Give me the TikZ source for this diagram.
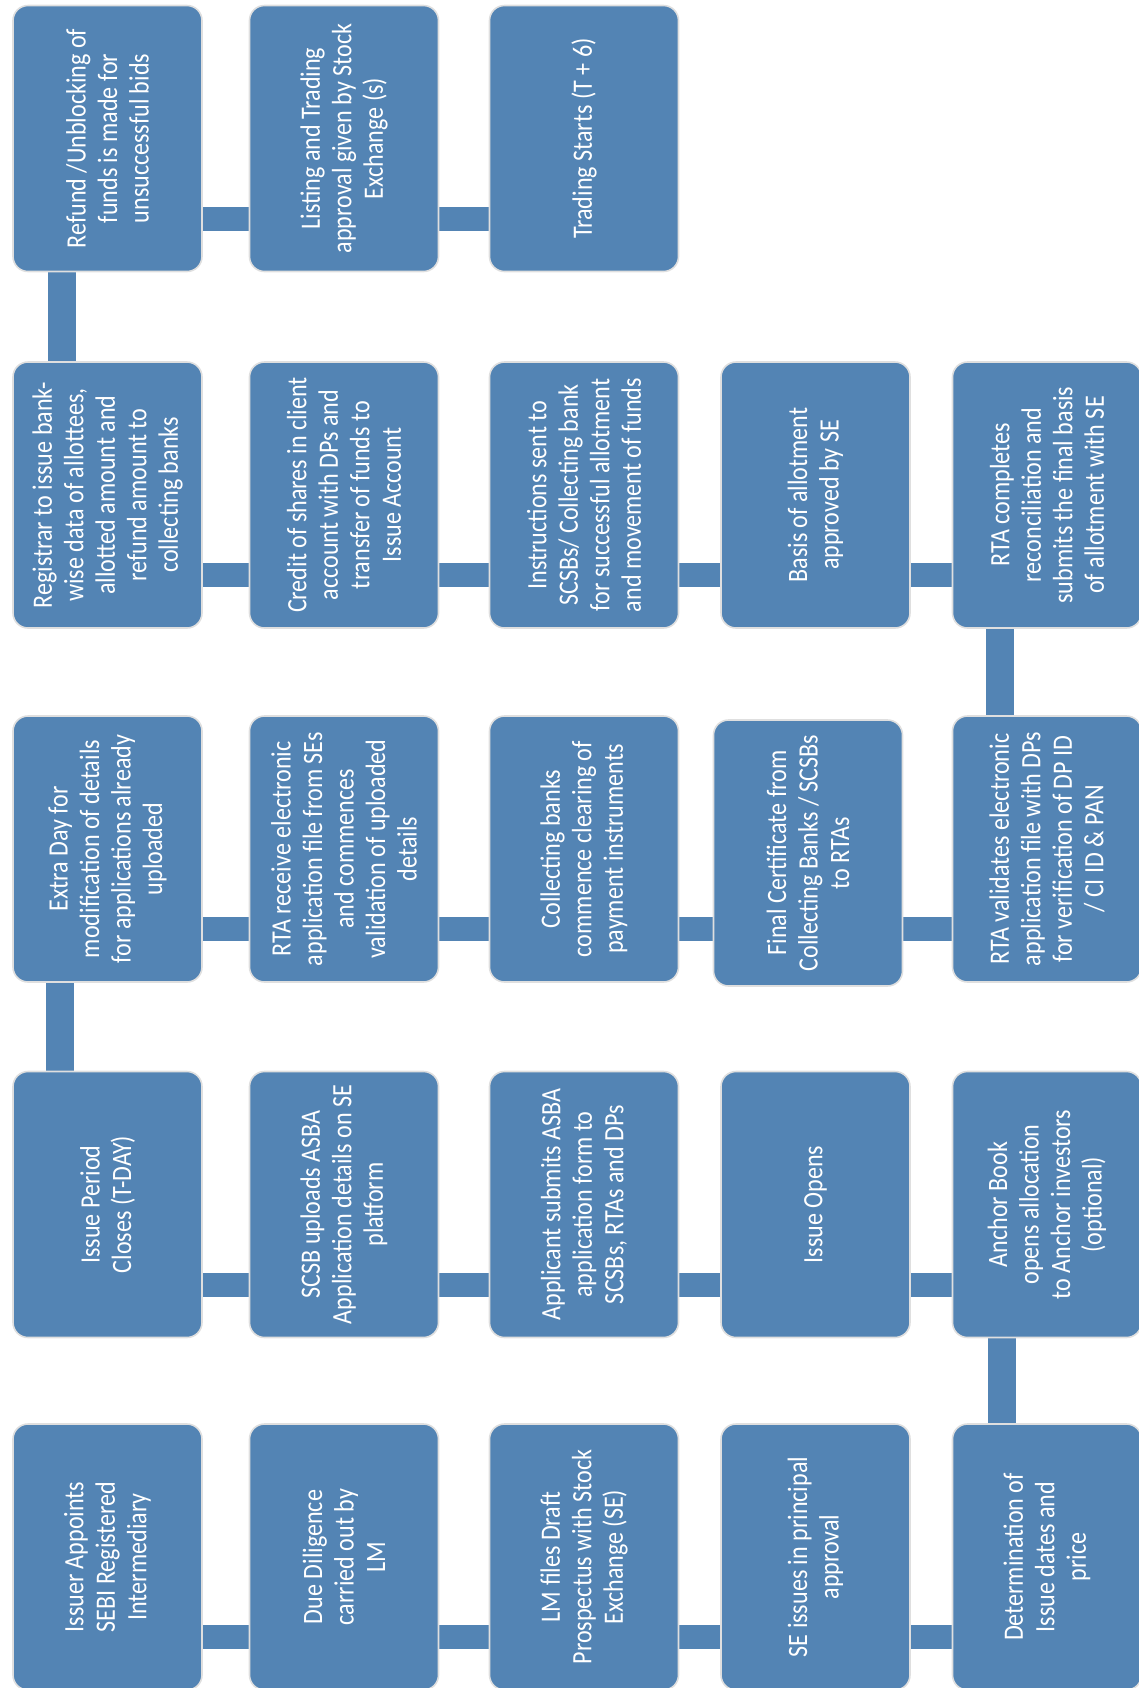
\documentclass[tikz,border=0pt]{standalone}
\usepackage{fontspec}
\setmainfont{Carlito}[FakeStretch=0.86]
\usetikzlibrary{calc,backgrounds}
\definecolor{stepblue}{RGB}{83,132,180}

\begin{document}
\begin{tikzpicture}[x=0.5pt,y=-0.5pt,
    stepbox/.style={rotate=90, draw=white!75!gray, line width=0.8pt, fill=stepblue,
        rounded corners=7.5pt, minimum width=133pt, minimum height=94.5pt, inner sep=2pt,
        text=white, align=center, font=\fontsize{14}{15.75}\selectfont},
    hlink/.style={stepblue, line width=12pt},
    vlink/.style={stepblue, line width=14pt}]
        \useasboundingbox (0,0) rectangle (1139,1688);

        % first row: issue to listing
        \node[stepbox] (appoint) at (107.5,1557) {Issuer Appoints\\SEBI Registered\\Intermediary};
        \node[stepbox] (diligence) at (344,1557) {Due Diligence\\carried out by\\LM};
        \node[stepbox] (draft) at (584,1557) {LM files Draft\\Prospectus with Stock\\Exchange (SE)};
        \node[stepbox] (inprinc) at (815.5,1557) {SE issues in principal\\approval};
        \node[stepbox] (pricing) at (1047,1557) {Determination of\\Issue dates and\\price};

        % second row: issue period
        \node[stepbox] (anchor) at (1047,1204.5) {Anchor Book\\opens allocation\\to Anchor investors\\(optional)};
        \node[stepbox] (opens) at (815.5,1204.5) {Issue Opens};
        \node[stepbox] (applicant) at (584,1204.5) {Applicant submits ASBA\\application form to\\SCSBs, RTAs and DPs};
        \node[stepbox] (scsb) at (344,1204.5) {SCSB uploads ASBA\\Application details on SE\\platform};
        \node[stepbox] (closes) at (107.5,1204.5) {Issue Period\\Closes (T-DAY)};

        % third row: validation
        \node[stepbox] (extraday) at (107.5,849) {Extra Day for\\modification of details\\for applications already\\uploaded};
        \node[stepbox] (rtarecv) at (344,849) {RTA receive electronic\\application file from SEs\\and commences\\validation of uploaded\\details};
        \node[stepbox] (clearing) at (584,849) {Collecting banks\\commence clearing of\\payment instruments};
        \node[stepbox] (finalcert) at (808,853) {Final Certificate from\\Collecting Banks / SCSBs\\to RTAs};
        \node[stepbox] (rtaval) at (1047,849) {RTA validates electronic\\application file with DPs\\for verification of DP ID\\/ CI ID \& PAN};

        % fourth row: allotment
        \node[stepbox] (reconcile) at (1047,495) {RTA completes\\reconciliation and\\submits the final basis\\of allotment with SE};
        \node[stepbox] (basis) at (815.5,495) {Basis of allotment\\approved by SE};
        \node[stepbox] (instr) at (584,495) {Instructions sent to\\SCSBs/ Collecting bank\\for successful allotment\\and movement of funds};
        \node[stepbox] (credit) at (344,495) {Credit of shares in client\\account with DPs and\\transfer of funds to\\Issue Account};
        \node[stepbox] (registrar) at (107.5,495) {Registrar to issue bank-\\wise data of allottees,\\allotted amount and\\refund amount to\\collecting banks};

        % fifth row: refunds and listing
        \node[stepbox] (refund) at (107.5,138.5) {Refund /Unblocking of\\funds is made for\\unsuccessful bids};
        \node[stepbox] (listing) at (344,138.5) {Listing and Trading\\approval given by Stock\\Exchange (s)};
        \node[stepbox] (trading) at (584,138.5) {Trading Starts (T + 6)};

        % connectors behind the boxes
        \begin{pgfonlayer}{background}
        \draw[hlink] ($(appoint.center)+(0,80)$) -- ($(diligence.center)+(0,80)$);
        \draw[hlink] ($(diligence.center)+(0,80)$) -- ($(draft.center)+(0,80)$);
        \draw[hlink] ($(draft.center)+(0,80)$) -- ($(inprinc.center)+(0,80)$);
        \draw[hlink] ($(inprinc.center)+(0,80)$) -- ($(pricing.center)+(0,80)$);
        \draw[vlink] ($(pricing.center)+(-45,0)$) -- ($(anchor.center)+(-45,0)$);

        \draw[hlink] ($(anchor.center)+(0,80)$) -- ($(opens.center)+(0,80)$);
        \draw[hlink] ($(opens.center)+(0,80)$) -- ($(applicant.center)+(0,80)$);
        \draw[hlink] ($(applicant.center)+(0,80)$) -- ($(scsb.center)+(0,80)$);
        \draw[hlink] ($(scsb.center)+(0,80)$) -- ($(closes.center)+(0,80)$);
        \draw[vlink] ($(closes.center)+(-48,0)$) -- ($(extraday.center)+(-48,0)$);

        \draw[hlink] ($(extraday.center)+(0,80)$) -- ($(rtarecv.center)+(0,80)$);
        \draw[hlink] ($(rtarecv.center)+(0,80)$) -- ($(clearing.center)+(0,80)$);
        \draw[hlink] ($(clearing.center)+(0,80)$) -- ($(clearing.center)+(230,80)$);
        \draw[hlink] ($(finalcert.center)+(0,76)$) -- ($(rtaval.center)+(0,80)$);
        \draw[vlink] ($(rtaval.center)+(-47,0)$) -- ($(reconcile.center)+(-47,0)$);

        \draw[hlink] ($(reconcile.center)+(0,80)$) -- ($(basis.center)+(0,80)$);
        \draw[hlink] ($(basis.center)+(0,80)$) -- ($(instr.center)+(0,80)$);
        \draw[hlink] ($(instr.center)+(0,80)$) -- ($(credit.center)+(0,80)$);
        \draw[hlink] ($(credit.center)+(0,80)$) -- ($(registrar.center)+(0,80)$);
        \draw[vlink] ($(registrar.center)+(-46,0)$) -- ($(refund.center)+(-46,0)$);

        \draw[hlink] ($(refund.center)+(0,80)$) -- ($(listing.center)+(0,80)$);
        \draw[hlink] ($(listing.center)+(0,80)$) -- ($(trading.center)+(0,80)$);
        \end{pgfonlayer}
\end{tikzpicture}
\end{document}
